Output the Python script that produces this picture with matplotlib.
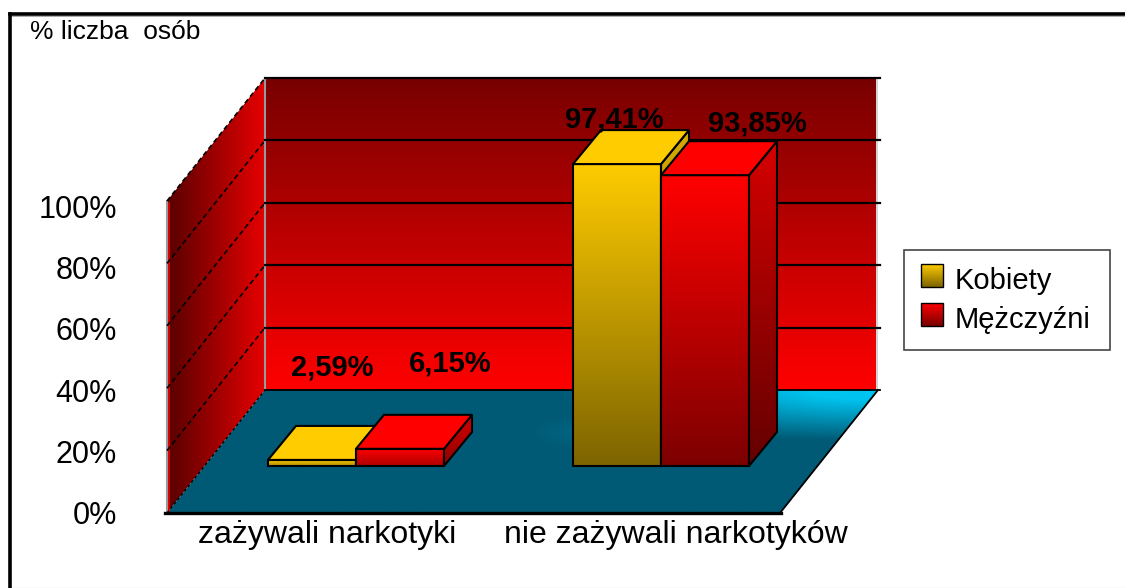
# -*- coding: utf-8 -*-
"""Slupki 3D: odsetek osob zazywajacych narkotyki, rysowane na osi w pikselach."""
import numpy as np
import matplotlib
matplotlib.use("Agg")
import matplotlib.pyplot as plt
from matplotlib.patches import Polygon, Rectangle

plt.rcParams["font.family"] = ["Liberation Sans", "DejaVu Sans"]

# dane
categories = ["zażywali narkotyki", "nie zażywali narkotyków"]
series_names = ["Kobiety", "Mężczyźni"]
kobiety = [2.59, 97.41]
mezczyzni = [6.15, 93.85]
value_labels_k = ["2,59%", "97,41%"]
value_labels_m = ["6,15%", "93,85%"]
y_ticks = [0, 20, 40, 60, 80, 100]
title = "% liczba  osób"

# geometria (piksele)
X0, X1 = 167, 780          # przednia krawedz podlogi
Y0 = 513
DX, DY = 98, -123          # glebokosc podlogi
WALL_R = 876               # prawa krawedz sciany tylnej
AXIS_H = 312 / 100         # px na 1%
BAR_LIFT = 2               # slupki startuja troche ponizej podstawy
BAR_W = 88
BAR_BASE = 466
BAR_DX, BAR_DY = 28, -34
GROUP_X = [356, 661]       # srodki grup

fig = plt.figure(figsize=(11.25, 5.88), dpi=100)
ax = fig.add_axes([0, 0, 1, 1])
ax.set_xlim(0, 1125)
ax.set_ylim(588, 0)
ax.axis("off")


def grad(poly, c0, c1, horizontal=False, z=1):
    """Wielokat z gradientem od c0 (gora/lewo) do c1 (dol/prawo)."""
    poly = np.array(poly, float)
    x0, y0 = poly.min(axis=0)
    x1, y1 = poly.max(axis=0)
    c0 = np.array(matplotlib.colors.to_rgb(c0))
    c1 = np.array(matplotlib.colors.to_rgb(c1))
    t = np.linspace(0, 1, 256)[:, None] * (c1 - c0) + c0
    img = t[None, :, :] if horizontal else t[:, None, :]
    im = ax.imshow(img, extent=[x0, x1, y1, y0], aspect="auto", zorder=z,
                   interpolation="bilinear")
    p = Polygon(poly, closed=True, transform=ax.transData, fc="none", ec="none")
    ax.add_patch(p)
    im.set_clip_path(p)
    ax.set_xlim(0, 1125)
    ax.set_ylim(588, 0)


def outline(poly, z=2, lw=1.5, ls="-"):
    ax.add_patch(Polygon(poly, closed=True, fc="none", ec="black", lw=lw, ls=ls,
                         zorder=z, joinstyle="miter"))


# ramka
ax.plot([9.5, 9.5], [588, 13.5], color="black", lw=2.6, zorder=1,
        solid_capstyle="projecting")
ax.plot([9.5, 1125], [13.5, 13.5], color="black", lw=2.6, zorder=1,
        solid_capstyle="projecting")
ax.plot([11, 1125], [15.5, 15.5], color="#aaaaaa", lw=0.7, zorder=0)
ax.plot([11, 1125], [587.5, 587.5], color="#e6e6e6", lw=1, zorder=0)

top = y_ticks[-1] * AXIS_H
bx0, bx1 = X0 + DX, X1 + DX
by0 = Y0 + DY

# sciana tylna
grad([(bx0, by0), (WALL_R, by0), (WALL_R, by0 - top), (bx0, by0 - top)], "#780000", "#ff0000")
# sciana lewa
left = [(X0, Y0), (bx0, by0), (bx0, by0 - top), (X0, Y0 - top)]
grad(left, "#580000", "#e60000", horizontal=True)
ax.plot([X0 + 1.5, X0 + 1.5], [Y0, Y0 - top + 2], color="#f00000", lw=1.2, zorder=2)
ax.plot([X0, X0], [Y0, Y0 - top], color="#999999", lw=1.5, zorder=2)
ax.plot([bx0, bx0], [by0, by0 - top], color="#999999", lw=1.5, zorder=2)
ax.plot([WALL_R + 1, WALL_R + 1], [by0, by0 - top], color="#cccccc", lw=1.2, zorder=2)

# podloga z jasniejsza plama z tylu po prawej
floor = [(X0, Y0), (X1, Y0), (bx1, by0), (bx0, by0)]
xx, yy = np.meshgrid(np.arange(X0, bx1 + 1), np.arange(by0, Y0 + 1))
b = np.clip(1.2 * (1 - np.hypot((xx - 860) / 300, (yy - by0) / 50)), 0, 1)
b2 = 0.14 * np.clip(1 - np.hypot((xx - 590) / 60, (yy - 432) / 18), 0, 1)
b = np.clip(b + b2, 0, 1)
base = np.array(matplotlib.colors.to_rgb("#005a75"))
light = np.array(matplotlib.colors.to_rgb("#00c4f0"))
im = ax.imshow(base + b[..., None] * (light - base), extent=[X0, bx1, Y0, by0],
               aspect="auto", zorder=1)
fp = Polygon(floor, closed=True, fc="none", ec="none")
ax.add_patch(fp)
im.set_clip_path(fp)
ax.set_xlim(0, 1125)
ax.set_ylim(588, 0)

# siatka
for v in y_ticks[1:]:
    h = v * AXIS_H
    ax.plot([bx0, 880], [by0 - h, by0 - h], color="black", lw=1.6, zorder=2)
    ax.plot([X0, bx0], [Y0 - h, by0 - h], color="black", lw=1.2,
            ls=(0, (3, 2)), zorder=2)
ax.plot([bx0, 880], [by0, by0], color="black", lw=1.3, zorder=2)
ax.plot([X0, bx0], [Y0, by0], color="black", lw=1.0, ls=(0, (2, 2)), zorder=2)
ax.plot([X1, bx1], [Y0, by0], color="black", lw=1.3, zorder=2)
ax.plot([X0 - 2, X1 + 1], [Y0, Y0], color="black", lw=2.4, zorder=3)


def bar(x, v, top_col, bot_col, side_top, side_bot, z):
    h = v * AXIS_H - BAR_LIFT
    y = BAR_BASE - h
    x2 = x + BAR_W
    # dol gradientu zalezy od wysokosci slupka
    f = max(min(h / 300, 1), 0.6)
    mix = lambda a, b: tuple(np.array(matplotlib.colors.to_rgb(a)) * (1 - f)
                             + np.array(matplotlib.colors.to_rgb(b)) * f)
    front = [(x, BAR_BASE), (x2, BAR_BASE), (x2, y), (x, y)]
    side = [(x2, BAR_BASE), (x2 + BAR_DX, BAR_BASE + BAR_DY),
            (x2 + BAR_DX, y + BAR_DY), (x2, y)]
    tp = [(x, y), (x2, y), (x2 + BAR_DX, y + BAR_DY), (x + BAR_DX, y + BAR_DY)]
    grad(side, side_top, mix(side_top, side_bot), z=z)
    outline(side, z=z + .1)
    grad(front, top_col, mix(top_col, bot_col), z=z)
    outline(front, z=z + .1)
    ax.add_patch(Polygon(tp, closed=True, fc=top_col, ec="black", lw=1.5, zorder=z + .1))


for i, gx in enumerate(GROUP_X):
    bar(gx - BAR_W, kobiety[i], "#ffcc00", "#7d6400", "#d8ac00", "#6a5500", 4)
    bar(gx, mezczyzni[i], "#ff0000", "#780000", "#d60000", "#600000", 5)

# etykiety wartosci
label_pos_k = [(332, 368), (614, 119)]
label_pos_m = [(450, 364), (757, 124)]
for s, p in zip(value_labels_k, label_pos_k):
    ax.text(p[0], p[1], s, ha="center", va="center", fontsize=21, fontweight="bold",
            color="black", zorder=8)
for s, p in zip(value_labels_m, label_pos_m):
    ax.text(p[0], p[1], s, ha="center", va="center", fontsize=21, fontweight="bold",
            color="black", zorder=8)

# opisy osi
for v in y_ticks:
    ax.text(117, Y0 + 3 - v * 3.06, f"{v}%", ha="right", va="center", fontsize=22)
cat_x = [327.5, 676]
for c, x in zip(categories, cat_x):
    ax.text(x, 535, c, ha="center", va="center", fontsize=23)
ax.text(30, 32, title, ha="left", va="center", fontsize=19)

# legenda
ax.add_patch(Rectangle((904, 250), 206, 100, fc="white", ec="#444444", lw=1.2, zorder=2))
for name, y, c0, c1 in zip(series_names, [280, 319], ["#ffcc00", "#ff0000"],
                           ["#7d6400", "#780000"]):
    sq = [(921, y - 16), (943, y - 16), (943, y + 7), (921, y + 7)]
    grad(sq, c0, c1, z=3)
    outline(sq, z=3.1, lw=1.0)
    ax.text(955, y + 1, name, ha="left", va="center", fontsize=21, zorder=3)

fig.savefig("out.png", dpi=100)
